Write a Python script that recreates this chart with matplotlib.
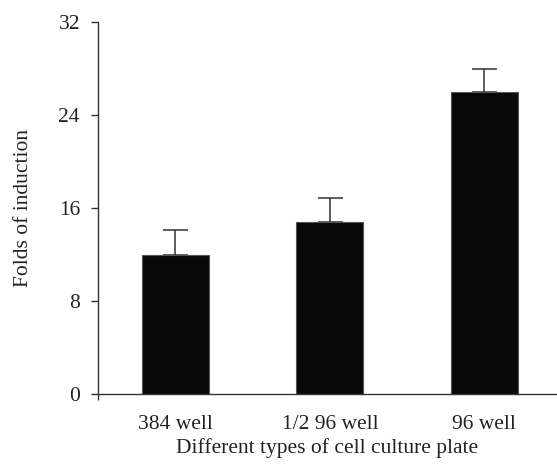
import matplotlib
matplotlib.use("Agg")
import matplotlib.pyplot as plt

categories = ["384 well", "1/2 96 well", "96 well"]
values = [12.0, 14.8, 26.0]
errors = [2.1, 2.1, 2.0]
yticks = [0, 8, 16, 24, 32]

plt.rcParams['font.family'] = ['Liberation Serif', 'DejaVu Serif']
fig = plt.figure(figsize=(5.57, 4.70), dpi=100)
ax = fig.add_axes([98/557, 1 - 394/470, 1 - 98/557, (394 - 22)/470])

x = list(range(len(categories)))
ax.bar(x, values, width=0.435, color='#080808', edgecolor='#555555', linewidth=0.8, zorder=2)
ax.errorbar(x, values, yerr=[[0]*len(errors), errors], fmt='none', ecolor='#333333',
            elinewidth=1.1, capsize=9, capthick=1.1, zorder=1)

ax.set_xlim(-0.5, 2.47)
ax.set_ylim(0, 32)
ax.set_yticks(yticks)
ax.set_xticks(x)
ax.set_xticklabels(categories)
ax.set_xticks([-0.5], minor=True)
ax.tick_params(axis='x', which='major', length=0, pad=15, labelsize=15.5, colors='#222222')
ax.tick_params(axis='x', which='minor', length=4, width=1.0, color='#333333', direction='out')
ax.tick_params(axis='y', length=5, width=1.0, color='#333333', pad=8, labelsize=15.5, labelcolor='#222222')

for s in ['top', 'right']:
    ax.spines[s].set_visible(False)
for s in ['left', 'bottom']:
    ax.spines[s].set_color('#333333')
    ax.spines[s].set_linewidth(1.0)

ax.set_ylabel("Folds of induction", fontsize=15.5, color='#222222', labelpad=18)
ax.set_xlabel("Different types of cell culture plate", fontsize=15.5, color='#222222', labelpad=3)

fig.savefig("out.png", dpi=100)
